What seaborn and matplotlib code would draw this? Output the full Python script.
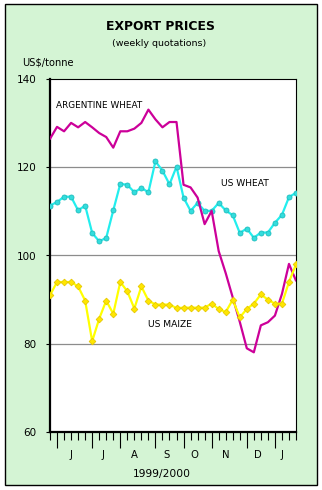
import matplotlib
matplotlib.use("Agg")
import matplotlib.pyplot as plt
from matplotlib.patches import Rectangle
import seaborn as sns
import pandas as pd

# ---- data ----
weeks = list(range(36))
argentine_wheat = [126.4, 129.1, 128.1, 130.0, 129.0, 130.2, 129.0, 127.7, 126.8, 124.4,
                   128.1, 128.1, 128.7, 130.0, 133.0, 130.8, 129.0, 130.2, 130.2, 116.0,
                   115.4, 113.1, 107.1, 110.1, 101.0, 96.0, 90.5, 85.0, 79.0, 78.1,
                   84.2, 84.9, 86.4, 91.3, 98.1, 94.3]
us_wheat = [111.3, 112.1, 113.3, 113.3, 110.2, 111.3, 105.1, 103.2, 104.0, 110.2,
            116.2, 116.0, 114.3, 115.3, 114.3, 121.3, 119.2, 116.1, 120.1, 113.1,
            110.1, 111.9, 110.1, 110.1, 111.9, 110.2, 109.1, 105.1, 106.1, 104.0,
            105.2, 105.2, 107.4, 109.2, 113.2, 114.2]
us_maize = [91.0, 94.0, 94.0, 94.0, 93.0, 89.8, 80.6, 85.7, 89.8, 86.8,
            94.0, 91.9, 88.0, 93.0, 89.8, 88.9, 88.9, 88.9, 88.1, 88.2,
            88.2, 88.2, 88.2, 89.1, 87.9, 87.2, 90.0, 86.0, 87.9, 89.1,
            91.2, 90.0, 89.1, 89.1, 94.0, 98.0]
month_starts = [1, 6, 10, 15, 19, 23, 28, 32]
month_labels = ["J", "J", "A", "S", "O", "N", "D", "J"]
y_ticks = [60, 80, 100, 120, 140]

df = pd.DataFrame({"week": weeks, "arg": argentine_wheat,
                   "usw": us_wheat, "usm": us_maize})

sns.set_theme(style="white")
plt.rcParams["font.family"] = ["DejaVu Sans"]

W, H = 322, 490
fig = plt.figure(figsize=(W / 100, H / 100), dpi=100)
fig.patch.set_facecolor("white")
fig.patches.append(Rectangle((4.5 / W, 5 / H), 312.5 / W, 480.5 / H,
                             transform=fig.transFigure, facecolor="#D4F4D4",
                             edgecolor="black", linewidth=1.0, zorder=-10))

ax = fig.add_axes([50 / W, 57.7 / H, 246 / W, 353.6 / H])
ax.set_zorder(5)
ax.set_facecolor("white")

sns.lineplot(data=df, x="week", y="usw", ax=ax, color="#22EEEE", linewidth=1.6,
             marker="o", markersize=3.6, markerfacecolor="#33DDDD",
             markeredgecolor="#20BEBE", markeredgewidth=0.6, zorder=3)
sns.lineplot(data=df, x="week", y="arg", ax=ax, color="#CC0099", linewidth=1.6,
             zorder=4)
sns.lineplot(data=df, x="week", y="usm", ax=ax, color="#FFFF00", linewidth=1.6,
             marker="D", markersize=3.4, markerfacecolor="#FFE600",
             markeredgecolor="#E6C800", markeredgewidth=0.6, zorder=5)

ax.set_xlim(0, 35)
ax.set_ylim(60, 140)
ax.set_xlabel("")
ax.set_ylabel("")

# gridlines
for v in y_ticks[1:-1]:
    ax.axhline(v, color="#8C8C8C", linewidth=0.9, zorder=1)

# spines
for s in ["left", "bottom"]:
    ax.spines[s].set_linewidth(1.6)
    ax.spines[s].set_color("black")
for s in ["top", "right"]:
    ax.spines[s].set_linewidth(0.8)
    ax.spines[s].set_color("black")

# y ticks
ax.set_yticks(y_ticks)
ax.set_yticklabels([str(v) for v in y_ticks])
ax.tick_params(axis="y", direction="out", length=3, width=0.8, pad=6.5,
               labelsize=7.5, colors="black", left=True)

# x ticks: long at month boundaries, short weekly
ax.set_xticks(month_starts)
ax.set_xticklabels([])
ax.set_xticks([w for w in weeks if w not in month_starts], minor=True)
ax.tick_params(axis="x", which="major", direction="out", length=11.5,
               width=0.8, colors="black", bottom=True)
ax.tick_params(axis="x", which="minor", direction="out", length=5.5,
               width=0.8, colors="black", bottom=True)

# month labels
bounds = month_starts + [35]
for i, lab in enumerate(month_labels):
    xc = (bounds[i] + bounds[i + 1]) / 2 - 0.45
    ax.text(xc, -0.064, lab, transform=ax.get_xaxis_transform(),
            ha="center", va="center", fontsize=7.3, color="black")

# series labels
ax.text(0.85, 133.9, "ARGENTINE WHEAT", ha="left", va="center",
        fontsize=6.4, color="black", zorder=6)
ax.text(24.4, 116.3, "US WHEAT", ha="left", va="center",
        fontsize=6.6, color="black", zorder=6)
ax.text(17.05, 84.4, "US MAIZE", ha="center", va="center",
        fontsize=6.6, color="black", zorder=6)

# titles
fig.text(160 / W, 1 - 26 / H, "EXPORT PRICES", ha="center", va="center",
         fontsize=8.9, fontweight="bold", color="black")
fig.text(159 / W, 1 - 43.7 / H, "(weekly quotations)", ha="center",
         va="center", fontsize=6.8, color="black")
fig.text(21.7 / W, 1 - 62.7 / H, "US$/tonne", ha="left", va="center",
         fontsize=7.1, color="black")
fig.text(161.7 / W, 1 - 474.3 / H, "1999/2000", ha="center", va="center",
         fontsize=7.7, color="black")

fig.savefig("out.png", dpi=100, facecolor=fig.get_facecolor())
